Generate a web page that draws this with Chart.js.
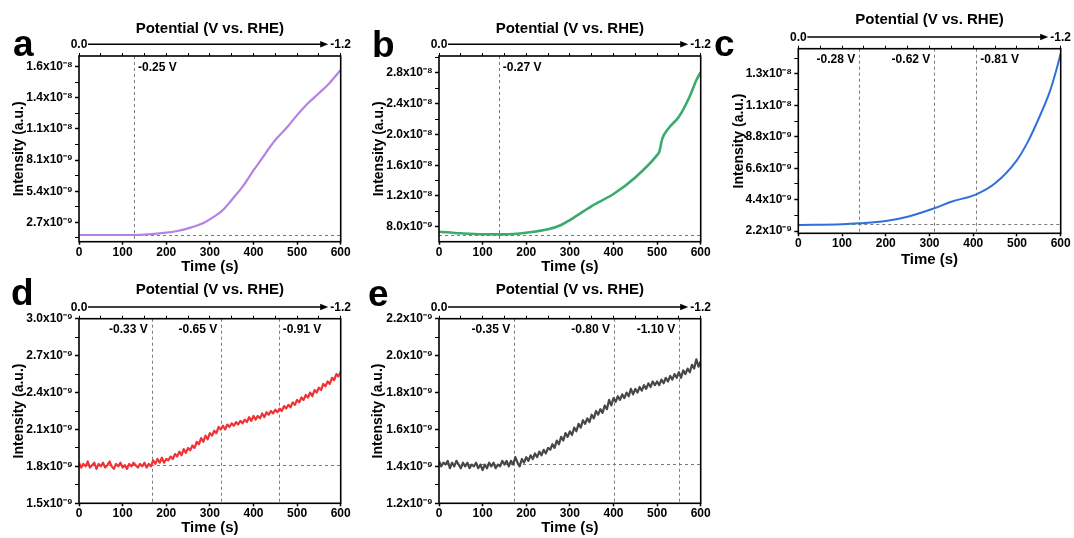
<!DOCTYPE html>
<html><head><meta charset="utf-8">
<script src="https://cdn.jsdelivr.net/npm/chart.js@4.4.1/dist/chart.umd.min.js"></script>
<style>
html,body{margin:0;padding:0;background:#fff;}
#wrap{position:relative;width:1074px;height:538px;overflow:hidden;background:#fff;}
canvas{position:absolute;}
.letter{position:absolute;font-family:"Liberation Sans",Arial,sans-serif;font-weight:bold;font-size:37px;line-height:1;color:#000;}
</style></head><body>
<div id="wrap">
<canvas id="ca" width="360" height="280" style="left:0px;top:0px"></canvas>
<canvas id="cb" width="360" height="280" style="left:360px;top:0px"></canvas>
<canvas id="cc" width="354" height="280" style="left:720px;top:0px"></canvas>
<canvas id="cd" width="360" height="258" style="left:0px;top:280px"></canvas>
<canvas id="ce" width="360" height="258" style="left:360px;top:280px"></canvas>
<div class="letter" style="left:13px;top:25px">a</div>
<div class="letter" style="left:372px;top:26px">b</div>
<div class="letter" style="left:714px;top:25px">c</div>
<div class="letter" style="left:11px;top:274px">d</div>
<div class="letter" style="left:368px;top:275px">e</div>
</div>
<script>
// ---------- DATA (intensity in units of 1e-9 a.u.) ----------
const timeTicks = [0, 100, 200, 300, 400, 500, 600];
const potentialTicks = [0, 50, 100, 150, 200, 250, 300, 350, 400, 450, 500, 550, 600];
const potentialLabels = ['0.0', '-1.2'];

const timeA = [0, 50, 100, 150, 200, 225, 250, 280, 300, 330, 350, 375, 400, 425, 450, 475, 500, 525, 550, 575, 600];
const intensityA = [1.60, 1.60, 1.60, 1.63, 1.80, 1.95, 2.18, 2.55, 2.96, 3.77, 4.64, 5.79, 7.20, 8.54, 9.84, 10.86, 12.00, 13.03, 13.90, 14.82, 15.92];
const yTicksA = [2.7, 5.4, 8.1, 10.8, 13.5, 16.2];
const yLabelsA = ['2.7x10⁻⁹', '5.4x10⁻⁹', '8.1x10⁻⁹', '1.1x10⁻⁸', '1.4x10⁻⁸', '1.6x10⁻⁸'];
const yMinorA = [1.35, 4.05, 6.75, 9.45, 12.15, 14.85];
const markersA = [126];
const markerLabelsA = ['-0.25 V'];
const baselineA = 1.6;

const timeB = [0, 50, 100, 150, 200, 250, 280, 300, 330, 350, 400, 450, 500, 505, 512, 526, 550, 575, 590, 600];
const intensityB = [7.35, 7.14, 7.01, 7.00, 7.22, 7.66, 8.22, 8.87, 9.95, 10.69, 12.25, 14.41, 17.31, 17.74, 19.45, 20.78, 22.29, 24.97, 27.05, 28.10];
const yTicksB = [8, 12, 16, 20, 24, 28];
const yLabelsB = ['8.0x10⁻⁹', '1.2x10⁻⁸', '1.6x10⁻⁸', '2.0x10⁻⁸', '2.4x10⁻⁸', '2.8x10⁻⁸'];
const yMinorB = [10, 14, 18, 22, 26, 30];
const markersB = [137];
const markerLabelsB = ['-0.27 V'];
const baselineB = 6.92;

const timeC = [0, 100, 140, 200, 250, 311, 350, 407, 450, 500, 525, 550, 575, 590, 600];
const intensityC = [2.62, 2.67, 2.74, 2.90, 3.20, 3.79, 4.25, 4.77, 5.54, 7.17, 8.46, 10.10, 11.96, 13.48, 14.65];
const yTicksC = [2.2, 4.4, 6.6, 8.8, 11.0, 13.2];
const yLabelsC = ['2.2x10⁻⁹', '4.4x10⁻⁹', '6.6x10⁻⁹', '8.8x10⁻⁹', '1.1x10⁻⁸', '1.3x10⁻⁸'];
const yMinorC = [3.3, 5.5, 7.7, 9.9, 12.1, 14.3];
const markersC = [139.5, 311, 407];
const markerLabelsC = ['-0.28 V', '-0.62 V', '-0.81 V'];
const baselineC = 2.67;

const timeFine = [0,5,10,15,20,25,30,35,40,45,50,55,60,65,70,75,80,85,90,95,100,105,110,115,120,125,130,135,140,145,150,155,160,165,170,175,180,185,190,195,200,205,210,215,220,225,230,235,240,245,250,255,260,265,270,275,280,285,290,295,300,305,310,315,320,325,330,335,340,345,350,355,360,365,370,375,380,385,390,395,400,405,410,415,420,425,430,435,440,445,450,455,460,465,470,475,480,485,490,495,500,505,510,515,520,525,530,535,540,545,550,555,560,565,570,575,580,585,590,595,600];

const intensityD = [1.83,1.79,1.82,1.80,1.84,1.79,1.81,1.83,1.78,1.82,1.80,1.83,1.79,1.81,1.84,1.80,1.78,1.82,1.80,1.83,1.79,1.81,1.78,1.82,1.80,1.83,1.81,1.79,1.82,1.80,1.83,1.79,1.82,1.80,1.85,1.82,1.86,1.83,1.87,1.83,1.86,1.85,1.88,1.86,1.90,1.88,1.92,1.89,1.94,1.91,1.95,1.93,1.97,1.95,2.00,1.98,2.03,2.00,2.05,2.02,2.07,2.05,2.09,2.07,2.12,2.10,2.13,2.10,2.14,2.12,2.15,2.13,2.16,2.14,2.17,2.15,2.18,2.16,2.20,2.17,2.21,2.18,2.21,2.19,2.23,2.20,2.24,2.22,2.25,2.23,2.26,2.24,2.27,2.25,2.29,2.27,2.30,2.28,2.32,2.30,2.34,2.32,2.36,2.34,2.38,2.36,2.40,2.37,2.42,2.40,2.44,2.42,2.47,2.45,2.49,2.47,2.52,2.50,2.55,2.53,2.57];
const yTicksD = [1.5, 1.8, 2.1, 2.4, 2.7, 3.0];
const yLabelsD = ['1.5x10⁻⁹', '1.8x10⁻⁹', '2.1x10⁻⁹', '2.4x10⁻⁹', '2.7x10⁻⁹', '3.0x10⁻⁹'];
const yMinorD = [1.65, 1.95, 2.25, 2.55, 2.85];
const markersD = [166.7, 326, 457.8];
const markerLabelsD = ['-0.33 V', '-0.65 V', '-0.91 V'];
const baselineD = 1.814;

const intensityE = [1.43,1.40,1.42,1.41,1.43,1.39,1.42,1.40,1.43,1.41,1.39,1.42,1.40,1.42,1.39,1.41,1.40,1.42,1.39,1.41,1.38,1.41,1.39,1.42,1.40,1.42,1.39,1.41,1.40,1.43,1.41,1.43,1.40,1.43,1.41,1.45,1.42,1.40,1.44,1.42,1.45,1.43,1.46,1.44,1.47,1.45,1.48,1.46,1.49,1.47,1.50,1.49,1.52,1.50,1.54,1.52,1.56,1.54,1.58,1.56,1.59,1.57,1.61,1.59,1.63,1.61,1.65,1.63,1.66,1.64,1.68,1.66,1.70,1.68,1.71,1.69,1.73,1.71,1.76,1.73,1.77,1.75,1.78,1.76,1.79,1.77,1.80,1.78,1.82,1.79,1.82,1.80,1.83,1.81,1.84,1.82,1.85,1.83,1.86,1.84,1.86,1.84,1.87,1.85,1.88,1.86,1.89,1.87,1.90,1.88,1.91,1.88,1.92,1.90,1.93,1.91,1.95,1.93,1.98,1.94,1.97];
const yTicksE = [1.2, 1.4, 1.6, 1.8, 2.0, 2.2];
const yLabelsE = ['1.2x10⁻⁹', '1.4x10⁻⁹', '1.6x10⁻⁹', '1.8x10⁻⁹', '2.0x10⁻⁹', '2.2x10⁻⁹'];
const yMinorE = [1.3, 1.5, 1.7, 1.9, 2.1];
const markersE = [172.6, 401, 551];
const markerLabelsE = ['-0.35 V', '-0.80 V', '-1.10 V'];
const baselineE = 1.415;

// ---------- RENDERING ----------
const FONT = '"Liberation Sans", Arial, Helvetica, sans-serif';
Chart.defaults.font.family = FONT;
Chart.defaults.color = '#000';

const panelDecor = {
  id: 'panelDecor',
  beforeDatasetsDraw(chart, args, o) {
    const {ctx, chartArea: ca, scales} = chart;
    const x = scales.x, y = scales.y;
    ctx.save();
    ctx.setLineDash([3, 3]);
    ctx.strokeStyle = '#7a7a7a';
    ctx.lineWidth = 1;
    const by = Math.round(y.getPixelForValue(o.baseline)) + 0.5;
    ctx.beginPath(); ctx.moveTo(ca.left, by); ctx.lineTo(ca.right, by); ctx.stroke();
    o.markers.forEach(m => {
      const px = Math.round(x.getPixelForValue(m)) + 0.5;
      ctx.beginPath(); ctx.moveTo(px, ca.top); ctx.lineTo(px, ca.bottom); ctx.stroke();
    });
    ctx.restore();
  },
  afterDraw(chart, args, o) {
    const {ctx, chartArea: ca, scales} = chart;
    const x = scales.x, x2 = scales.x2;
    ctx.save();
    ctx.fillStyle = '#000';
    ctx.font = 'bold 12px ' + FONT;
    ctx.textBaseline = 'middle';
    o.markers.forEach((m, i) => {
      const px = x.getPixelForValue(m);
      if (o.sides[i] === 'right') { ctx.textAlign = 'left'; ctx.fillText(o.labels[i], px + 4, ca.top + o.labelDy); }
      else { ctx.textAlign = 'right'; ctx.fillText(o.labels[i], px - 4, ca.top + o.labelDy); }
    });
    ctx.strokeStyle = '#000';
    ctx.lineWidth = 1.6;
    ctx.strokeRect(ca.left, ca.top, ca.right - ca.left, ca.bottom - ca.top);
    const ay = x2.bottom - 11.7;
    const xs = x2.getPixelForValue(0) + 9, xe = x2.getPixelForValue(600) - 12.5;
    ctx.lineWidth = 1.4;
    ctx.beginPath(); ctx.moveTo(xs, ay); ctx.lineTo(xe - 6, ay); ctx.stroke();
    ctx.beginPath(); ctx.moveTo(xe, ay); ctx.lineTo(xe - 8, ay - 3.2); ctx.lineTo(xe - 8, ay + 3.2); ctx.closePath(); ctx.fill();
    ctx.restore();
  }
};

function makePanel(id, g, d) {
  const yAll = d.yTicks.concat(d.yMinor).sort((p, q) => p - q);
  return new Chart(document.getElementById(id), {
    type: 'line',
    data: {
      datasets: [{
        data: d.time.map((t, i) => ({x: t, y: d.values[i]})),
        borderColor: d.color, borderWidth: d.width, pointRadius: 0, fill: false,
        borderJoinStyle: 'round',
        cubicInterpolationMode: d.smooth ? 'monotone' : 'default', tension: 0
      }]
    },
    options: {
      responsive: false, animation: false, devicePixelRatio: 1,
      layout: {padding: {left: 0, right: g.rightPad, top: 0, bottom: 0}},
      plugins: {
        legend: {display: false}, tooltip: {enabled: false},
        panelDecor: {markers: d.markers, labels: d.markerLabels, sides: g.sides, baseline: d.baseline, labelDy: g.labelDy}
      },
      scales: {
        x: {
          type: 'linear', position: 'bottom', min: 0, max: 600,
          afterBuildTicks: s => { s.ticks = timeTicks.map(v => ({value: v})); },
          afterFit: s => { s.height = g.bottomH; },
          ticks: {autoSkip: false, maxRotation: 0, padding: 1.5, font: {size: 12, weight: 'bold', lineHeight: 1}, callback: v => String(v)},
          grid: {drawOnChartArea: false, drawTicks: true, tickLength: 3, tickColor: '#000', tickWidth: 1.5},
          border: {display: false},
          title: {display: true, text: 'Time (s)', font: {size: 15, weight: 'bold'}, padding: {top: 0, bottom: g.bottomTitlePad}}
        },
        x2: {
          type: 'linear', position: 'top', axis: 'x', min: 0, max: 600,
          afterBuildTicks: s => { s.ticks = potentialTicks.map(v => ({value: v})); },
          afterFit: s => { s.height = g.topH; },
          ticks: {autoSkip: false, maxRotation: 0, padding: 2.2, font: {size: 12, weight: 'bold', lineHeight: 1},
            callback: v => v === 0 ? potentialLabels[0] : (v === 600 ? potentialLabels[1] : '')},
          grid: {drawOnChartArea: false, drawTicks: true, tickLength: 3, tickColor: '#000', tickWidth: 1},
          border: {display: false},
          title: {display: true, text: 'Potential (V vs. RHE)', font: {size: 15, weight: 'bold'}, padding: {top: g.topTitlePad, bottom: 0}}
        },
        y: {
          type: 'linear', position: 'left', min: d.yMin, max: d.yMax,
          afterBuildTicks: s => { s.ticks = yAll.map(v => ({value: v})); },
          afterFit: s => { s.width = g.yW; },
          ticks: {autoSkip: false, padding: 2.3, font: {size: 12, weight: 'bold'},
            callback: v => { const k = d.yTicks.indexOf(v); return k >= 0 ? d.yLabels[k] : ''; }},
          grid: {drawOnChartArea: false, drawTicks: true, tickLength: 4, tickColor: '#000',
            tickWidth: c => (c.tick && d.yTicks.indexOf(c.tick.value) >= 0) ? 1.5 : 1},
          border: {display: false},
          title: {display: true, text: 'Intensity (a.u.)', font: {size: 14, weight: 'bold'}, padding: {top: g.yTitlePad, bottom: 0}}
        }
      }
    },
    plugins: [panelDecor]
  });
}

const geomTop = {yW: 79, topH: 56, bottomH: 38.3, rightPad: 19.3, bottomTitlePad: 4, topTitlePad: 20.3, yTitlePad: 10.6, labelDy: 12};

makePanel('ca', Object.assign({}, geomTop, {sides: ['right']}),
  {time: timeA, values: intensityA, color: '#b283e3', width: 2.2, smooth: true, yMin: 1.02, yMax: 17.13,
   yTicks: yTicksA, yLabels: yLabelsA, yMinor: yMinorA, markers: markersA, markerLabels: markerLabelsA, baseline: baselineA});

makePanel('cb', Object.assign({}, geomTop, {sides: ['right']}),
  {time: timeB, values: intensityB, color: '#3bab6c', width: 2.6, smooth: true, yMin: 6.05, yMax: 30.2,
   yTicks: yTicksB, yLabels: yLabelsB, yMinor: yMinorB, markers: markersB, markerLabels: markerLabelsB, baseline: baselineB});

makePanel('cc', {yW: 78.3, topH: 48.7, bottomH: 46.7, rightPad: 13.3, bottomTitlePad: 11.5, topTitlePad: 11, yTitlePad: 10.9, labelDy: 10.7, sides: ['left', 'left', 'right']},
  {time: timeC, values: intensityC, color: '#2f70dc', width: 2, smooth: true, yMin: 2.04, yMax: 14.97,
   yTicks: yTicksC, yLabels: yLabelsC, yMinor: yMinorC, markers: markersC, markerLabels: markerLabelsC, baseline: baselineC});

makePanel('cd', {yW: 79, topH: 38.7, bottomH: 34.7, rightPad: 19.3, bottomTitlePad: 1, topTitlePad: 1, yTitlePad: 10.6, labelDy: 10.7, sides: ['left', 'left', 'right']},
  {time: timeFine, values: intensityD, color: '#ef3236', width: 2.2, smooth: false, yMin: 1.5, yMax: 3.0,
   yTicks: yTicksD, yLabels: yLabelsD, yMinor: yMinorD, markers: markersD, markerLabels: markerLabelsD, baseline: baselineD});

makePanel('ce', {yW: 79, topH: 38.7, bottomH: 34.7, rightPad: 19.3, bottomTitlePad: 1, topTitlePad: 1, yTitlePad: 9.9, labelDy: 10.7, sides: ['left', 'left', 'left']},
  {time: timeFine, values: intensityE, color: '#474747', width: 2.2, smooth: false, yMin: 1.2, yMax: 2.2,
   yTicks: yTicksE, yLabels: yLabelsE, yMinor: yMinorE, markers: markersE, markerLabels: markerLabelsE, baseline: baselineE});
</script>
</body></html>
